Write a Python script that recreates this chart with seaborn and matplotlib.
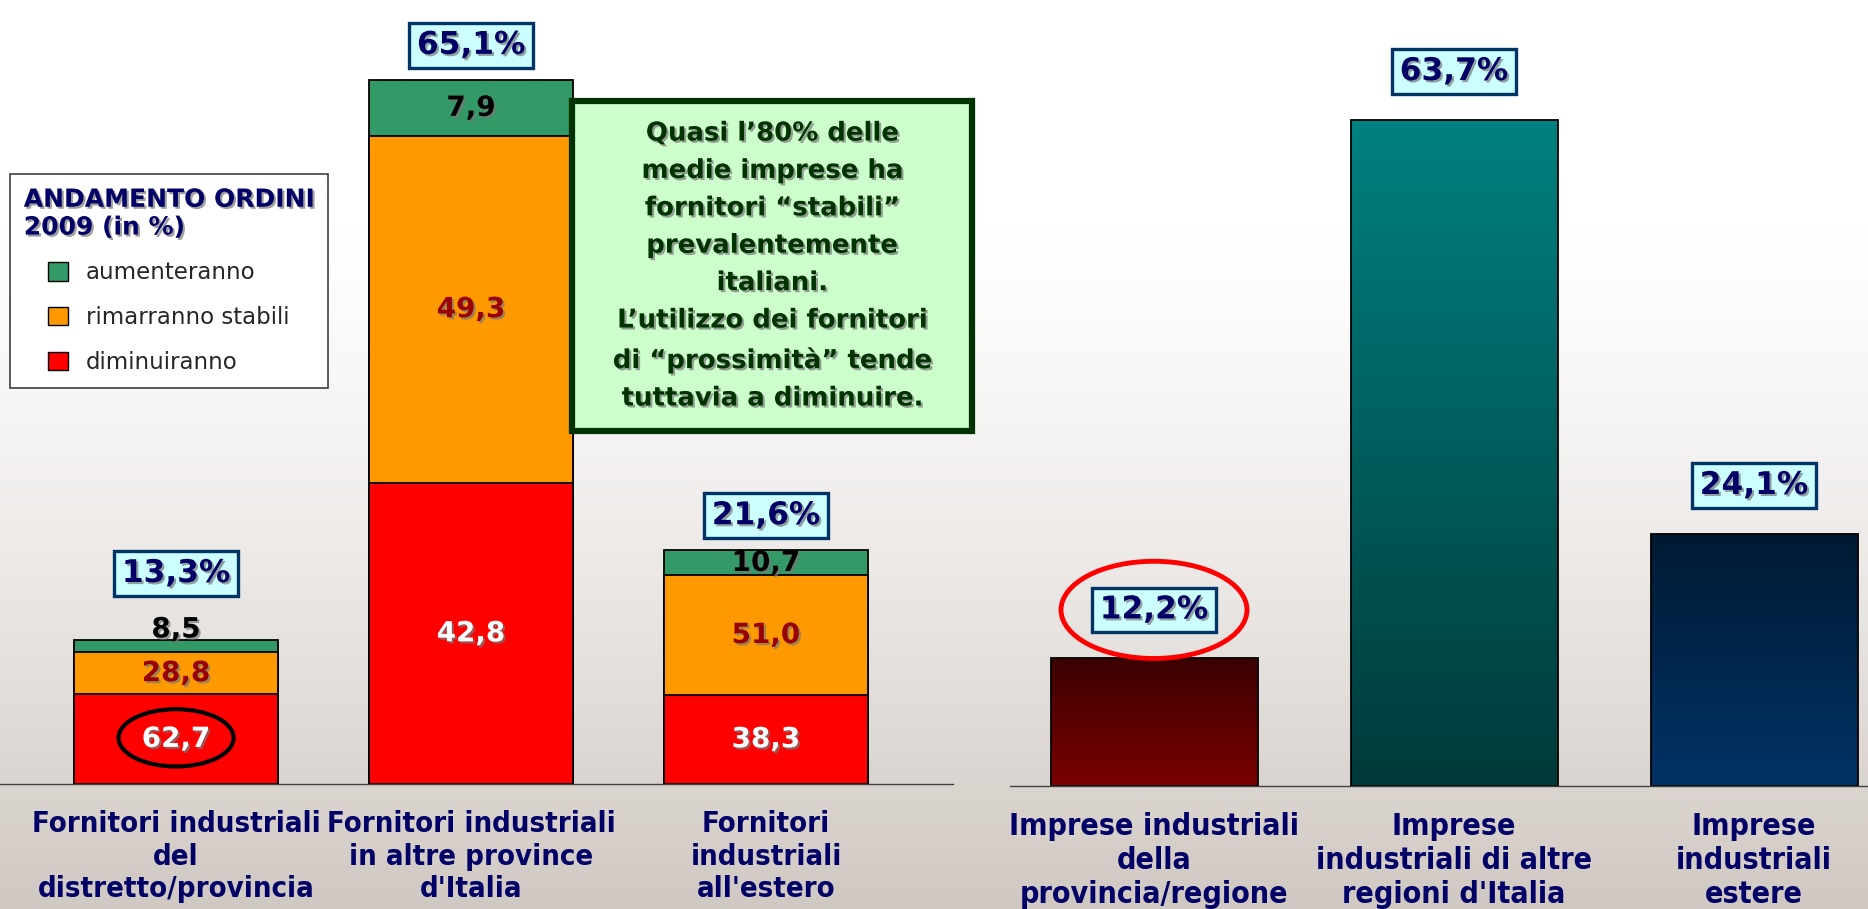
import numpy as np
import pandas as pd
import matplotlib
matplotlib.use('Agg')
import matplotlib.pyplot as plt
import matplotlib.patheffects as pe
from matplotlib.patches import Patch, Ellipse, Rectangle
from matplotlib.colors import LinearSegmentedColormap, to_rgb
from matplotlib import font_manager as fm
import seaborn as sns

sns.set_style('white')
plt.rcParams['font.family'] = ['DejaVu Sans']

# --- dati ---
cat_sx = ["Fornitori industriali\ndel\ndistretto/provincia",
          "Fornitori industriali\nin altre province\nd'Italia",
          "Fornitori\nindustriali\nall'estero"]
quota_sx = [13.3, 65.1, 21.6]          # % del totale fornitori
aumenteranno = [8.5, 7.9, 10.7]        # andamento ordini 2009 (in %)
stabili = [28.8, 49.3, 51.0]
diminuiranno = [62.7, 42.8, 38.3]

cat_dx = ["Imprese industriali\ndella\nprovincia/regione",
          "Imprese\nindustriali di altre\nregioni d'Italia",
          "Imprese\nindustriali\nestere"]
quota_dx = [12.2, 63.7, 24.1]

VERDE, ARANCIO, ROSSO = '#339966', '#FF9900', '#FF0000'
NAVY = '#000066'

def virgola(v, pct=False):
    s = f"{v:.1f}".replace('.', ',')
    return s + '%' if pct else s

# font stretto per le etichette delle categorie, se c'e'
nomi = {f.name for f in fm.fontManager.ttflist}
if 'Liberation Sans Narrow' in nomi:
    font_cat = dict(family='Liberation Sans Narrow', fontstretch='normal')
    size_cat = (27.5, 29)
else:
    font_cat = dict(family='DejaVu Sans', fontstretch='condensed')
    size_cat = (21, 21.8)

W, H = 1868, 909
fig = plt.figure(figsize=(W / 100, H / 100), dpi=100)

# sfondo sfumato bianco -> grigio caldo
bg = fig.add_axes([0, 0, 1, 1], zorder=-10)
t = np.linspace(0, 1, 500)[:, None]
v = np.clip((t - 0.25) / 0.75, 0, 1) ** 1.3
top_c, bot_c = np.array([1, 1, 1]), np.array(to_rgb('#d0c8c2'))
img = (1 - v)[..., None] * top_c + v[..., None] * bot_c
bg.imshow(img, aspect='auto', extent=[0, 1, 0, 1])
bg.axis('off')

ombra = [pe.withSimplePatchShadow(offset=(1.5, -1.5), shadow_rgbFace='#777777', alpha=0.7)]
box_pct = dict(boxstyle='square,pad=0.25', fc='#CCFFFF', ec='#003366', lw=2.4)

# ---------------- pannello sinistro: barre impilate ----------------
df = pd.DataFrame({'cat': cat_sx, 'quota': quota_sx,
                   'aum': aumenteranno, 'sta': stabili, 'dim': diminuiranno})
df['r'] = df['quota'] * df['dim'] / 100
df['o'] = df['quota'] * df['sta'] / 100
df['g'] = df['quota'] * df['aum'] / 100
df['c_ro'] = df['r'] + df['o']
df['c_tot'] = df['c_ro'] + df['g']

ax1 = fig.add_axes([0, 125 / H, 953 / W, 784 / H])
ax1.set_facecolor('none')
for col, colore in [('c_tot', VERDE), ('c_ro', ARANCIO), ('r', ROSSO)]:
    sns.barplot(data=df, x='cat', y=col, color=colore, saturation=1, width=0.69,
                edgecolor='black', linewidth=1.3, ax=ax1)

for i, row in df.iterrows():
    ax1.text(i, row['r'] / 2, virgola(row['dim']), ha='center', va='center',
             fontsize=20, weight='bold', color='white', path_effects=ombra)
    ax1.text(i, row['r'] + row['o'] / 2, virgola(row['sta']), ha='center', va='center',
             fontsize=20, weight='bold', color='#990000', path_effects=ombra)
    yg = row['c_ro'] + row['g'] / 2
    extra = 0
    if row['g'] < 1.5:
        yg = row['c_tot'] + 1.0
        extra = 23
    ax1.text(i, yg, virgola(row['aum']), ha='center', va='center',
             fontsize=20, weight='bold', color='black', path_effects=ombra)
    ax1.annotate(virgola(row['quota'], True), xy=(i, row['c_tot']), xytext=(0, 25 + extra),
                 textcoords='offset points', ha='center', va='center',
                 fontsize=22.5, weight='bold', color=NAVY, path_effects=ombra, bbox=box_pct)

ax1.add_patch(Ellipse((0, df.loc[0, 'r'] / 2 + 0.1), width=0.39, height=5.3,
                      fill=False, ec='black', lw=3, zorder=6))

ax1.set_xlim(-0.597, 2.634)
ax1.set_ylim(0, 72.5)

# ---------------- pannello destro: barre semplici sfumate ----------------
dfd = pd.DataFrame({'cat': cat_dx, 'quota': quota_dx})
sfum = [('#3c0000', '#7a0000'), ('#008080', '#003a3a'), ('#001a33', '#003366')]

ax2 = fig.add_axes([1010 / W, 123 / H, 858 / W, 786 / H])
ax2.set_facecolor('none')
sns.barplot(data=dfd, x='cat', y='quota', hue='cat', palette=[c[1] for c in sfum],
            saturation=1, width=0.69, edgecolor='black', linewidth=1.3, legend=False, ax=ax2)

for p, (c_alto, c_basso) in zip(ax2.patches, sfum):
    x0, y0, w, h = p.get_x(), p.get_y(), p.get_width(), p.get_height()
    cmap = LinearSegmentedColormap.from_list('g', [c_basso, c_alto])
    ax2.imshow(np.linspace(1, 0, 200)[:, None], cmap=cmap, aspect='auto',
               extent=[x0, x0 + w, y0, y0 + h], zorder=p.get_zorder() - 0.1)
    p.set_facecolor('none')

off_dx = 35
for i, q in enumerate(quota_dx):
    ax2.annotate(virgola(q, True), xy=(i, q), xytext=(0, off_dx),
                 textcoords='offset points', ha='center', va='center',
                 fontsize=22.5, weight='bold', color=NAVY, path_effects=ombra, bbox=box_pct)

ax2.set_xlim(-0.48, 2.38)
ax2.set_ylim(0, 75.2)
# cerchio rosso sul primo valore
y_ell = quota_dx[0] + off_dx * (100 / 72) / (786 / 75.2)
ax2.add_patch(Ellipse((0, y_ell), width=0.62, height=9.3, fill=False,
                      ec='red', lw=3.5, zorder=6))
ax2.set_xticks([-0.47, 0.5, 1.5], minor=True)

for ax, cats, fs in [(ax1, cat_sx, size_cat[0]), (ax2, cat_dx, size_cat[1])]:
    sns.despine(ax=ax, left=True)
    ax.spines['bottom'].set_color('#404040')
    ax.spines['bottom'].set_linewidth(1.0)
    ax.set_yticks([])
    ax.set_xlabel('')
    ax.set_ylabel('')
    ax.set_xticks(range(len(cats)))
    ax.set_xticklabels(cats, weight='bold', color=NAVY, linespacing=1.2,
                       fontsize=fs, **font_cat)
    ax.tick_params(axis='x', which='major', length=0, pad=19)
ax2.tick_params(axis='x', which='minor', length=5, width=1, direction='inout', color='#404040')

# legenda
maniglie = [Patch(fc=VERDE, ec='black', label='aumenteranno'),
            Patch(fc=ARANCIO, ec='black', label='rimarranno stabili'),
            Patch(fc=ROSSO, ec='black', label='diminuiranno')]
leg = fig.legend(handles=maniglie, title='ANDAMENTO ORDINI\n2009 (in %)',
                 loc='upper left', bbox_to_anchor=(10 / W, 1 - 174 / H), borderaxespad=0,
                 fontsize=16.5, title_fontproperties={'weight': 'bold', 'size': 18},
                 handlelength=0.85, handleheight=0.85, labelspacing=0.95, handletextpad=0.8,
                 borderpad=0.6, fancybox=False, framealpha=1, edgecolor='#404040')
leg.get_frame().set_linewidth(1.2)
leg.get_title().set_color(NAVY)
leg.get_title().set_path_effects(ombra)

# riquadro di commento
x0b, y0b, wb, hb = 572 / W, 1 - 431 / H, 400 / W, 330 / H
fig.patches.append(Rectangle((x0b, y0b), wb, hb, transform=fig.transFigure,
                             fc='#CCFFCC', ec='#003300', lw=4.5, zorder=5))
testo = ("Quasi l\u201980% delle\nmedie imprese ha\nfornitori \u201cstabili\u201d\n"
         "prevalentemente\nitaliani.\nL\u2019utilizzo dei fornitori\n"
         "di \u201cprossimit\u00e0\u201d tende\ntuttavia a diminuire.")
fig.text(x0b + wb / 2, y0b + hb / 2, testo, ha='center', va='center',
         multialignment='center', fontsize=18.7, weight='bold', color='#003300',
         linespacing=1.57, path_effects=ombra, zorder=6)

fig.savefig('out.png', dpi=100)
